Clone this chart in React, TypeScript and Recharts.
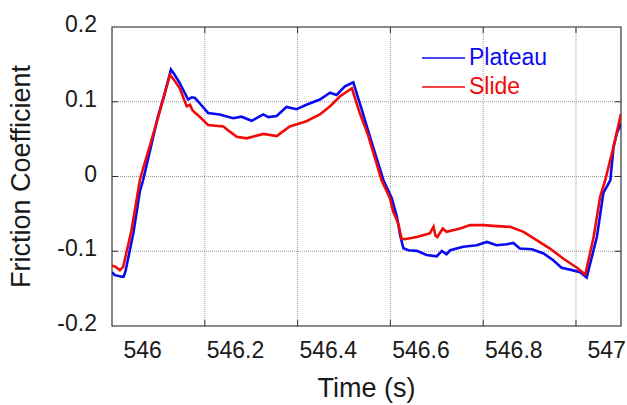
import { CartesianGrid, Legend, Line, LineChart, ReferenceArea, ReferenceLine, XAxis, YAxis } from "recharts"

const font = "'Liberation Sans', Arial, sans-serif"
const ink = "#1a1a1a"
const frame = "#333"

const timeDomain = [545.934, 547.031]
const frictionDomain = [-0.2, 0.2]
const timeTicks = [546, 546.2, 546.4, 546.6, 546.8, 547]
const gridTimes = [546.034, 546.134, 546.234, 546.334, 546.434, 546.534, 546.634, 546.734, 546.834, 546.934]
const majorTimes = [546.134, 546.334, 546.534, 546.734, 546.934]
const frictionTicks = [-0.2, -0.1, 0, 0.1, 0.2]
const innerFrictionTicks = [-0.1, 0, 0.1]

const plateauTime = [
  545.934, 545.94, 545.955, 545.959, 545.963, 545.98, 545.994, 546.001, 546.016, 546.033, 546.048, 546.061,
  546.069, 546.08, 546.098, 546.106, 546.113, 546.123, 546.141, 546.166, 546.195, 546.213, 546.235, 546.26,
  546.271, 546.289, 546.31, 546.332, 546.353, 546.382, 546.404, 546.418, 546.436, 546.454, 546.473, 546.49,
  546.519, 546.537, 546.548, 546.555, 546.562, 546.573, 546.591, 546.612, 546.634, 546.645, 546.655, 546.663,
  546.691, 546.72, 546.742, 546.763, 546.785, 546.799, 546.813, 546.839, 546.864, 546.885, 546.903, 546.921,
  546.943, 546.957, 546.979, 546.993, 547.008, 547.015, 547.022, 547.031,
]
const plateauFriction = [
  -0.128, -0.132, -0.134, -0.134, -0.127, -0.076, -0.02, -0.005, 0.035, 0.08, 0.112, 0.143,
  0.136, 0.125, 0.103, 0.106, 0.105, 0.098, 0.085, 0.083, 0.078, 0.08, 0.0745, 0.083,
  0.0795, 0.081, 0.093, 0.09, 0.096, 0.103, 0.112, 0.109, 0.1205, 0.126, 0.088, 0.053,
  -0.005, -0.029, -0.054, -0.0785, -0.096, -0.0987, -0.0995, -0.105, -0.1067, -0.0995, -0.104, -0.0987,
  -0.094, -0.092, -0.0875, -0.092, -0.0906, -0.0889, -0.0964, -0.0973, -0.103, -0.112, -0.122, -0.1246,
  -0.128, -0.135, -0.081, -0.022, -0.005, 0.04, 0.058, 0.071,
]

const slideTime = [
  545.934, 545.942, 545.951, 545.958, 545.976, 545.994, 546.001, 546.016, 546.037, 546.048, 546.059, 546.069,
  546.08, 546.095, 546.102, 546.108, 546.123, 546.141, 546.174, 546.188, 546.203, 546.224, 546.26, 546.289,
  546.317, 546.353, 546.382, 546.404, 546.425, 546.451, 546.468, 546.486, 546.515, 546.533, 546.54, 546.551,
  546.558, 546.565, 546.591, 546.619, 546.627, 546.631, 546.635, 546.647, 546.655, 546.684, 546.706, 546.734,
  546.763, 546.792, 546.821, 546.849, 546.878, 546.907, 546.936, 546.954, 546.972, 546.986, 546.997, 547.015,
  547.031,
]
const slideFriction = [
  -0.119, -0.121, -0.1255, -0.121, -0.072, -0.005, 0.011, 0.042, 0.087, 0.112, 0.136, 0.128,
  0.118, 0.094, 0.096, 0.088, 0.08, 0.069, 0.067, 0.06, 0.053, 0.051, 0.057, 0.054,
  0.067, 0.074, 0.083, 0.094, 0.107, 0.118, 0.085, 0.055, -0.005, -0.029, -0.047, -0.063,
  -0.083, -0.084, -0.081, -0.076, -0.067, -0.079, -0.081, -0.0696, -0.074, -0.0696, -0.065, -0.065,
  -0.0664, -0.0674, -0.074, -0.085, -0.0964, -0.11, -0.122, -0.131, -0.081, -0.027, -0.005, 0.04,
  0.084,
]

const plateauData = plateauTime.map((t, i) => ({ t, f: plateauFriction[i] }))
const slideData = slideTime.map((t, i) => ({ t, f: slideFriction[i] }))

// inward tick mark length, in axis units (about 6px)
const markT = 0.013
const markF = 0.008

const tickFont = { fontSize: 23, fontFamily: font, fill: ink }

function LegendBox({ payload }: any) {
  return (
    <div>
      {(payload || []).map((entry: any) => (
        <div key={entry.value} style={{ display: "flex", alignItems: "center", height: 29 }}>
          <svg width={46} height={4}>
            <line x1={2} x2={45} y1={2} y2={2} stroke={entry.color} strokeWidth={1.6} />
          </svg>
          <span style={{ color: entry.color, fontSize: 23, fontFamily: font, marginLeft: 3, lineHeight: "29px" }}>
            {entry.value}
          </span>
        </div>
      ))}
    </div>
  )
}

export default function App() {
  const [t0, t1] = timeDomain
  const [f0, f1] = frictionDomain
  return (
    <div style={{ position: "absolute", left: 0, top: 0, background: "#fff" }}>
      <LineChart width={627} height={405} margin={{ top: 27, right: 6, bottom: 0, left: 0 }}>
        <CartesianGrid verticalValues={gridTimes} stroke="#999" strokeDasharray="1 1" />
        <XAxis
          type="number"
          dataKey="t"
          domain={timeDomain}
          allowDataOverflow
          ticks={timeTicks}
          height={79}
          axisLine={false}
          tickLine={false}
          tickSize={0}
          tickMargin={16}
          tick={tickFont}
          label={{ value: "Time (s)", position: "insideBottom", offset: 8, fontSize: 27, fontFamily: font, fill: ink }}
        />
        <YAxis
          type="number"
          domain={frictionDomain}
          allowDataOverflow
          ticks={frictionTicks}
          width={112}
          axisLine={false}
          tickLine={false}
          tickSize={0}
          tickMargin={15}
          tick={{ ...tickFont, dy: -3 }}
          label={{
            value: "Friction Coefficient",
            angle: -90,
            position: "center",
            dx: -36,
            fontSize: 27,
            fontFamily: font,
            fill: ink,
          }}
        />
        <ReferenceArea x1={t0} x2={t1} y1={f0} y2={f1} fill="none" stroke={frame} strokeWidth={1.2} />
        {majorTimes.map((t) => (
          <ReferenceLine key={"b" + t} segment={[{ x: t, y: f0 }, { x: t, y: f0 + markF }]} stroke={frame} />
        ))}
        {majorTimes.map((t) => (
          <ReferenceLine key={"u" + t} segment={[{ x: t, y: f1 }, { x: t, y: f1 - markF }]} stroke={frame} />
        ))}
        {innerFrictionTicks.map((f) => (
          <ReferenceLine key={"l" + f} segment={[{ x: t0, y: f }, { x: t0 + markT, y: f }]} stroke={frame} />
        ))}
        {innerFrictionTicks.map((f) => (
          <ReferenceLine key={"r" + f} segment={[{ x: t1 - markT, y: f }, { x: t1, y: f }]} stroke={frame} />
        ))}
        <Legend
          layout="vertical"
          align="center"
          verticalAlign="middle"
          content={<LegendBox />}
          wrapperStyle={{ left: 420, top: 43, width: 160, height: 58 }}
        />
        <Line
          data={plateauData}
          dataKey="f"
          name="Plateau"
          stroke="#0a0af0"
          strokeWidth={2.6}
          dot={false}
          isAnimationActive={false}
        />
        <Line
          data={slideData}
          dataKey="f"
          name="Slide"
          stroke="#f00a0a"
          strokeWidth={2.6}
          dot={false}
          isAnimationActive={false}
        />
      </LineChart>
    </div>
  )
}
